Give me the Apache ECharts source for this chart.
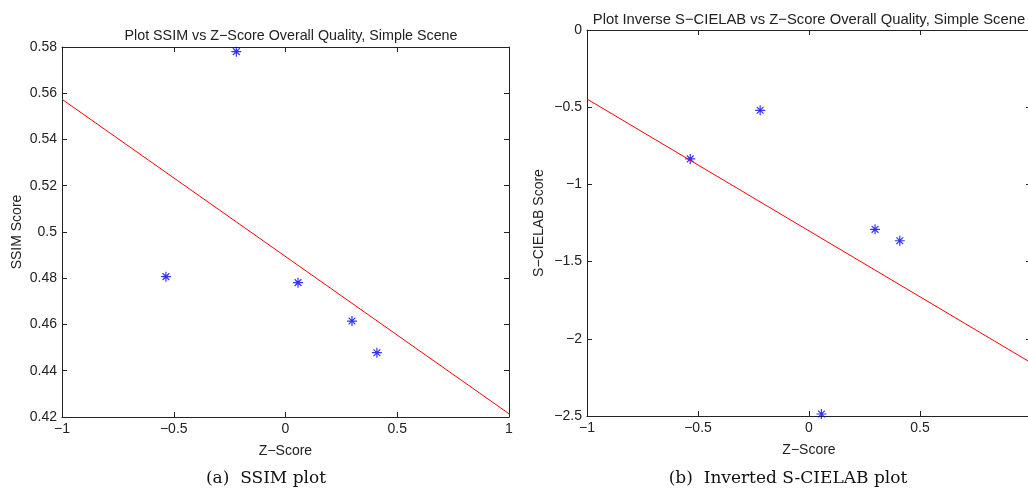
<!DOCTYPE html>
<html>
<head>
<meta charset="utf-8">
<script src="https://cdn.jsdelivr.net/npm/echarts@6/dist/echarts.min.js"></script>
<style>
html, body { margin: 0; padding: 0; background: #fff; }
#chart { width: 1028px; height: 491px; }
</style>
</head>
<body>
<div id="chart"></div>
<script>
// z-scores (same for both plots)
var zScore = [-0.535, -0.22, 0.056, 0.2975, 0.409];
// SSIM plot
var ssimScore = [0.4807, 0.578, 0.4781, 0.4615, 0.4478];
var ssimFit = [[-1, 0.5574], [1, 0.4214]];
// inverted S-CIELAB plot
var cielabScore = [-0.835, -0.52, -2.487, -1.291, -1.365];
var cielabFit = [[-1, -0.447], [1, -2.155]];

var ssimTicks = [0.42, 0.58, 0.02];
var cielabTicks = [-2.5, 0, 0.5];

var chart = echarts.init(document.getElementById('chart'));

var txt = '#222';
var font = 'Liberation Sans';
var star = 'path://M5,0L5,10M0,5L10,5M1.6,1.6L8.4,8.4M1.6,8.4L8.4,1.6';

function minus(v) {
    return String(v).replace('-', '\u2212');
}

function pairs(xs, ys) {
    var out = [];
    for (var i = 0; i < xs.length; i++) out.push([xs[i], ys[i]]);
    return out;
}

function xAx(grid, pos, name) {
    return {
        type: 'value', gridIndex: grid, position: pos,
        min: -1, max: 1, interval: 0.5,
        name: name, nameLocation: 'middle', nameGap: 27,
        nameTextStyle: { color: txt, fontFamily: font, fontSize: 14 },
        axisLine: { show: true, onZero: false, lineStyle: { color: txt, width: 1 } },
        axisTick: { show: true, inside: true, length: 5, lineStyle: { color: txt } },
        axisLabel: { show: pos == 'bottom', color: txt, fontFamily: font, fontSize: 14, margin: 5, formatter: minus },
        splitLine: { show: false }
    };
}

function yAx(grid, pos, t, name, gap) {
    return {
        type: 'value', gridIndex: grid, position: pos,
        min: t[0], max: t[1], interval: t[2],
        name: name, nameLocation: 'middle', nameGap: gap,
        nameTextStyle: { color: txt, fontFamily: font, fontSize: 14 },
        axisLine: { show: true, onZero: false, lineStyle: { color: txt, width: 1 } },
        axisTick: { show: true, inside: true, length: 5, lineStyle: { color: txt } },
        axisLabel: { show: pos == 'left', color: txt, fontFamily: font, fontSize: 14, margin: 5, formatter: minus },
        splitLine: { show: false }
    };
}

var option = {
    backgroundColor: '#fff',
    animation: false,
    title: [
        { text: 'Plot SSIM vs Z\u2212Score Overall Quality, Simple Scene', left: 286, top: 24, textAlign: 'center',
          textStyle: { color: txt, fontFamily: font, fontSize: 14.3, fontWeight: 'normal' } },
        { text: 'Plot Inverse S\u2212CIELAB vs Z\u2212Score Overall Quality, Simple Scene', left: 804, top: 7, textAlign: 'center',
          textStyle: { color: txt, fontFamily: font, fontSize: 14.8, fontWeight: 'normal' } },
        { text: '(a)  SSIM plot', left: 261, top: 465, textAlign: 'center',
          textStyle: { color: '#111', fontFamily: 'DejaVu Serif', fontSize: 17, fontWeight: 'normal' } },
        { text: '(b)  Inverted S-CIELAB plot', left: 783, top: 465, textAlign: 'center',
          textStyle: { color: '#111', fontFamily: 'DejaVu Serif', fontSize: 17, fontWeight: 'normal' } }
    ],
    grid: [
        { left: 62, right: 519, top: 47, bottom: 74, outerBoundsMode: 'none' },
        { left: 587, right: -3, top: 30, bottom: 75, outerBoundsMode: 'none' }
    ],
    xAxis: [
        xAx(0, 'bottom', 'Z\u2212Score'), xAx(0, 'top', ''),
        xAx(1, 'bottom', 'Z\u2212Score'), xAx(1, 'top', '')
    ],
    yAxis: [
        yAx(0, 'left', ssimTicks, 'SSIM Score', 38), yAx(0, 'right', ssimTicks, '', 0),
        yAx(1, 'left', cielabTicks, 'S\u2212CIELAB Score', 41), yAx(1, 'right', cielabTicks, '', 0)
    ],
    series: [
        { type: 'line', xAxisIndex: 0, yAxisIndex: 0, data: ssimFit, showSymbol: false,
          lineStyle: { color: '#ff0000', width: 1 } },
        { type: 'scatter', xAxisIndex: 0, yAxisIndex: 0, data: pairs(zScore, ssimScore),
          symbol: star, symbolSize: 10,
          itemStyle: { color: 'none', borderColor: '#0000ff', borderWidth: 1.2 } },
        { type: 'line', xAxisIndex: 2, yAxisIndex: 2, data: cielabFit, showSymbol: false,
          lineStyle: { color: '#ff0000', width: 1 } },
        { type: 'scatter', xAxisIndex: 2, yAxisIndex: 2, data: pairs(zScore, cielabScore),
          symbol: star, symbolSize: 10,
          itemStyle: { color: 'none', borderColor: '#0000ff', borderWidth: 1.2 } }
    ]
};

chart.setOption(option);
</script>
</body>
</html>
